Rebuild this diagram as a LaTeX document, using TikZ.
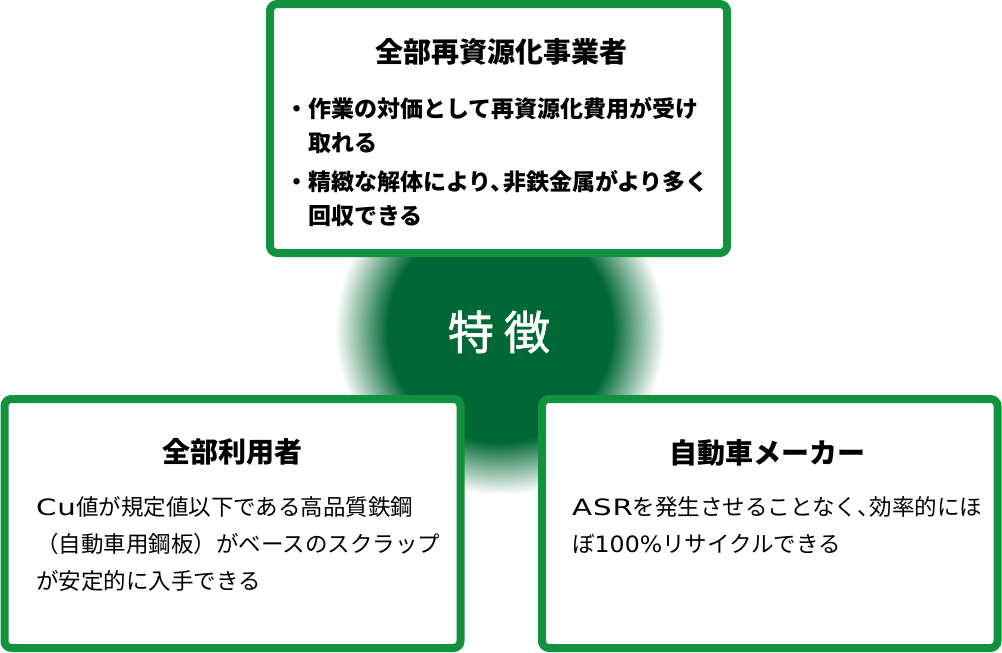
\documentclass[tikz,border=0pt]{standalone}
\usepackage{fontspec}
\setmainfont{Noto Sans CJK JP}
\newfontfamily\featfont{Noto Sans CJK JP}[FakeBold=1.5]
\newfontfamily\latinwide{DejaVu Sans}[FakeStretch=1.3, LetterSpace=4]
\newfontfamily\latin{DejaVu Sans}[FakeStretch=1.05]
\usetikzlibrary{positioning}
\definecolor{boxgreen}{RGB}{18,146,62}
\definecolor{glowgreen}{RGB}{0,104,52}
\pgfdeclareradialshading{glowshade}{\pgfpoint{0bp}{0bp}}{color(0bp)=(glowgreen); color(17bp)=(glowgreen); color(25bp)=(white); color(50bp)=(white)}
\newcommand{\tenten}{、\kern-0.45em}

\begin{document}
\begin{tikzpicture}[x=1pt, y=-1pt,
		panel/.style={draw=boxgreen, line width=8pt, rounded corners=7pt, fill=white},
		headtext/.style={font=\fontsize{28}{34}\selectfont\bfseries},
		bodytext/.style={font=\fontsize{22.5}{37}\selectfont, align=left, anchor=north west, inner sep=0pt}]
	\useasboundingbox (0,0) rectangle (1002,653);
	% glow behind the panels
	\shade[shading=glowshade] (500,330) circle (165pt);
	\draw[panel] (270,4) rectangle (727,253);
	\draw[panel] (4.5,399) rectangle (460.5,648);
	\draw[panel] (542,399) rectangle (997.5,648);
	\node[text=white, font=\fontsize{46}{50}\featfont] (feature) at (499,332) {特\hspace{10pt}徴};
	% top panel
	\node[headtext] (recyclerhead) at (501,52) {全部再資源化事業者};
	\node[bodytext, font=\fontsize{23}{34}\selectfont\bfseries] (recyclerbody) at (285,97)
		{・作業の対価として再資源化費用が受け\\\hspace*{1em}取れる\\[5pt]・精緻な解体により\tenten 非鉄金属がより多く\\\hspace*{1em}回収できる};
	% bottom left panel
	\node[headtext] (userhead) at (232,452) {全部利用者};
	\node[bodytext] (userbody) at (36,496)
		{{\latinwide Cu}値が規定値以下である高品質鉄鋼\\（自動車用鋼板）がベースのスクラップ\\が安定的に入手できる};
	% bottom right panel
	\node[headtext] (makerhead) at (767,453) {自動車メーカー};
	\node[bodytext] (makerbody) at (572,496)
		{{\latinwide ASR}を発生させることなく\tenten 効率的にほ\\ぼ{\latin 100\%}リサイクルできる};
\end{tikzpicture}
\end{document}
